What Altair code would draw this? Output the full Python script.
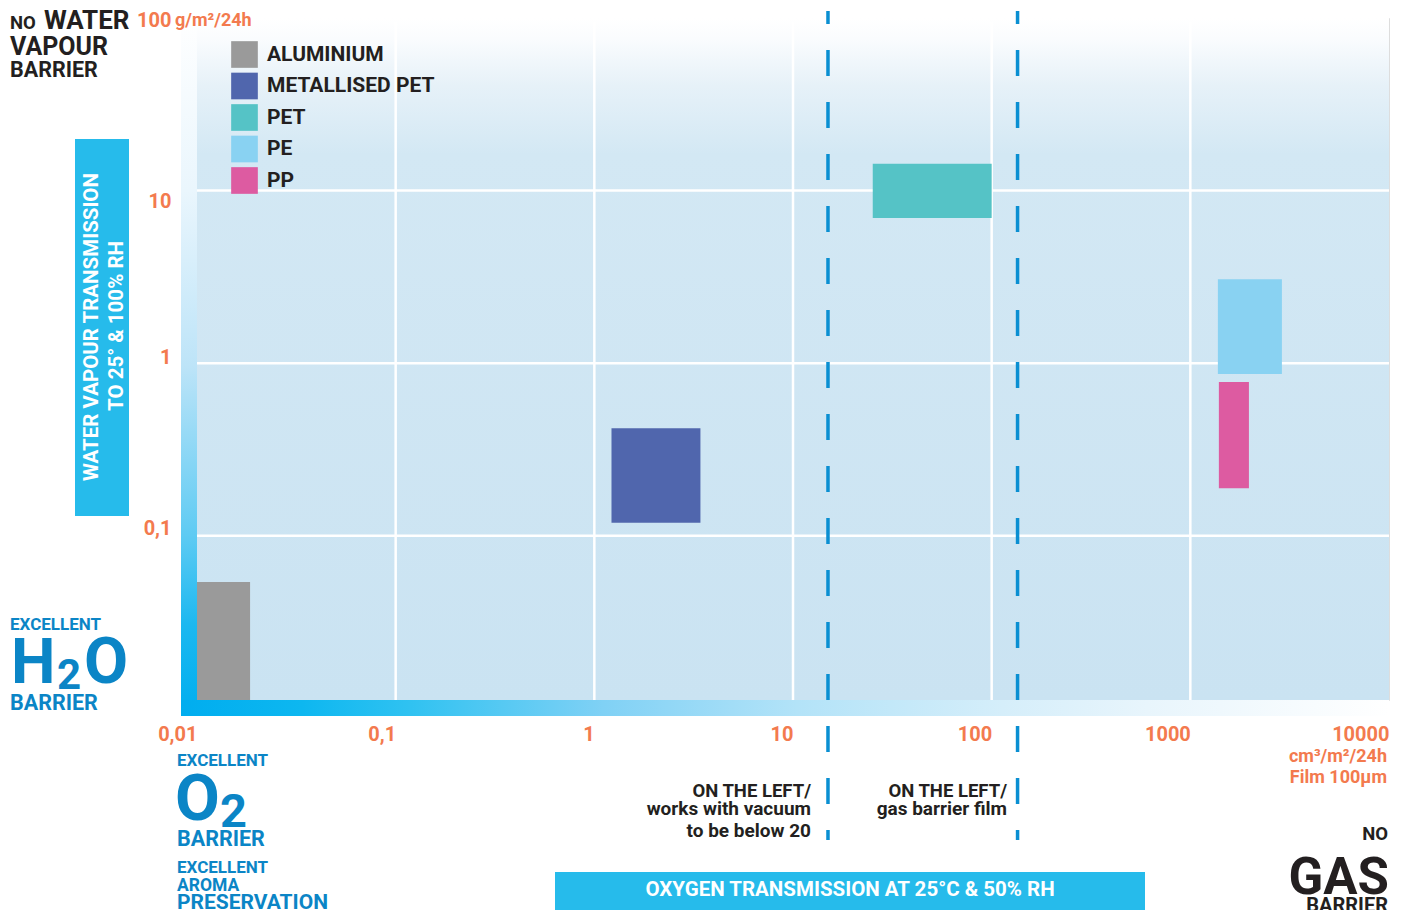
import altair as alt
import pandas as pd

# ---------------- data ----------------
materials = ["ALUMINIUM", "METALLISED PET", "PET", "PE", "PP"]
colors = ["#9a9a9a", "#5066ad", "#55c3c6", "#89d2f2", "#dd5ba1"]
otr_low = [0.01, 1.22, 25.2, 1376, 1392]       # cm3/m2/24h
otr_high = [0.0185, 3.42, 100, 2890, 1972]
wvtr_low = [0.0112, 0.119, 6.95, 0.866, 0.189]  # g/m2/24h
wvtr_high = [0.054, 0.42, 14.3, 3.07, 0.778]

x_ticks = [0.01, 0.1, 1, 10, 100, 1000, 10000]
y_ticks = [0.1, 1, 10, 100]
x_grid = [0.1, 1, 10, 100, 1000]
y_grid = [0.1, 1, 10]
limits = [15, 135]   # dashed reference lines

df = pd.DataFrame({"material": materials, "otr_low": otr_low, "otr_high": otr_high,
                   "wvtr_low": wvtr_low, "wvtr_high": wvtr_high})

# ---------------- layout constants ----------------
X0, Y0 = 197, 18          # screen position of plot origin
W, H = 1192, 682
FONT = "Roboto"
INK = "#231f20"
ORANGE = "#f37a4e"
BLUE = "#0b85c6"
BOX = "#26bbeb"
DASH = "#0a8fd2"

x_scale = alt.Scale(type="log", domain=[0.01, 10000], nice=False)
y_scale = alt.Scale(type="log", domain=[0.0112, 100], nice=False)

one = pd.DataFrame({"a": [0]})


def grad(stops, vertical=True):
    return {"gradient": "linear", "x1": 0, "y1": 0,
            "x2": 0 if vertical else 1, "y2": 1 if vertical else 0,
            "stops": [{"offset": o, "color": c} for o, c in stops]}


def box(x1, y1, x2, y2, fill):
    return alt.Chart(one).mark_rect(fill=fill, strokeWidth=0).encode(
        x=alt.value(x1 - X0), x2=alt.value(x2 - X0),
        y=alt.value(y1 - Y0), y2=alt.value(y2 - Y0))


def text(s, x, y, size, color=INK, align="left", angle=None, baseline="alphabetic"):
    kw = dict(font=FONT, fontWeight="bold", fontSize=size, fill=color,
              align=align, baseline=baseline)
    if angle is not None:
        kw["angle"] = angle
    return alt.Chart(pd.DataFrame({"t": [s]})).mark_text(**kw).encode(
        text="t:N", x=alt.value(x - X0), y=alt.value(y - Y0))


x_axis = alt.Axis(values=x_ticks, title=None, grid=False, domain=False, ticks=False, tickSize=0,
                  labelExpr="replace(format(datum.value, '~g'), '.', ',')",
                  labelAlign="right", labelBaseline="alphabetic", labelPadding=40,
                  labelFont=FONT, labelFontSize=20, labelFontWeight="bold", labelColor=ORANGE,
                  labelOverlap=False, labelFlush=False, labelBound=False)
y_axis = alt.Axis(values=y_ticks, title=None, grid=False, domain=False, ticks=False, tickSize=0,
                  labelExpr="replace(format(datum.value, '~g'), '.', ',')",
                  labelAlign="right", labelBaseline="alphabetic", labelPadding=26,
                  labelOffset={"expr": "datum.value == 10 ? 17 : datum.value == 100 ? 8 : datum.value == 1 ? 0 : -1"},
                  labelFont=FONT, labelFontSize=20, labelFontWeight="bold", labelColor=ORANGE,
                  labelOverlap=False, labelFlush=False, labelBound=False)

# ---------------- layers ----------------
background = alt.Chart(one).mark_rect(
    fill=grad([(0, "#ffffff"), (0.03, "#fafcfe"), (0.1, "#e6f1f8"),
               (0.2, "#d3e8f4"), (1, "#cae3f2")]), strokeWidth=0
).encode(x=alt.value(0), x2=alt.value(W), y=alt.value(0), y2=alt.value(H))

grid_v = alt.Chart(pd.DataFrame({"v": x_grid})).mark_rule(color="white", strokeWidth=2.5).encode(
    x=alt.X("v:Q", scale=x_scale, axis=x_axis), y=alt.value(4), y2=alt.value(H))
grid_h = alt.Chart(pd.DataFrame({"v": y_grid})).mark_rule(color="white", strokeWidth=2.5).encode(
    y=alt.Y("v:Q", scale=y_scale, axis=y_axis), x=alt.value(0), x2=alt.value(W))

legend = alt.Legend(orient="none", legendX=231 - X0, legendY=41 - Y0, title=None,
                    symbolType="square", symbolSize=711, symbolStrokeWidth=0, symbolOpacity=1,
                    labelFont=FONT, labelFontSize=21, labelFontWeight="bold", labelColor=INK,
                    labelLimit=0, rowPadding=4.5, labelOffset=9, padding=0)

rects = alt.Chart(df).mark_rect(strokeWidth=0).encode(
    x=alt.X("otr_low:Q", scale=x_scale, axis=x_axis),
    x2="otr_high:Q",
    y=alt.Y("wvtr_low:Q", scale=y_scale, axis=y_axis),
    y2="wvtr_high:Q",
    color=alt.Color("material:N", scale=alt.Scale(domain=materials, range=colors), legend=legend),
)

left_bar = alt.Chart(one).mark_rect(
    fill=grad([(0, "#ffffff"), (0.25, "#eaf6fd"), (0.5, "#bde4f8"), (0.74, "#5fcbf3"),
               (0.87, "#1cb8f0"), (1, "#00aeef")]), strokeWidth=0
).encode(x=alt.value(181 - X0), x2=alt.value(0), y=alt.value(15 - Y0), y2=alt.value(716 - Y0))

bottom_bar = alt.Chart(one).mark_rect(
    fill=grad([(0, "#00adef"), (0.1, "#0db7f0"), (0.19, "#30c2f1"), (0.35, "#80d1f5"),
               (0.51, "#b3e3f8"), (0.68, "#d5eefa"), (0.8, "#e8f5fc"), (1, "#ffffff")], vertical=False),
    strokeWidth=0
).encode(x=alt.value(181 - X0), x2=alt.value(W), y=alt.value(H), y2=alt.value(716 - Y0))

dashes = alt.Chart(pd.DataFrame({"v": limits})).mark_rule(
    color=DASH, strokeWidth=3.5, strokeDash=[26, 26], strokeDashOffset=13
).encode(x=alt.X("v:Q", scale=x_scale, axis=x_axis),
         y=alt.value(11 - Y0), y2=alt.value(840 - Y0))

labels = [
    # top-left
    text("NO", 10, 29, 18.5), text("WATER", 44, 29, 26), text("VAPOUR", 10, 55, 25),
    text("BARRIER", 10, 77, 21.5),
    text("g/m²/24h", 175, 26, 18, ORANGE),
    # y title
    box(75, 139, 129, 516, BOX),
    text("WATER VAPOUR TRANSMISSION", 97.5, 327, 20.5, "white", "center", 270),
    text("TO 25° & 100% RH", 122.5, 326, 20.5, "white", "center", 270),
    # H2O
    text("EXCELLENT", 10, 630, 17, BLUE), text("H", 11, 683, 63, BLUE),
    text("2", 57, 689, 42, BLUE), text("O", 84, 683, 64, BLUE),
    text("BARRIER", 10, 710, 21.5, BLUE),
    # O2
    text("EXCELLENT", 177, 766, 17, BLUE), text("O", 175, 820, 65, BLUE),
    text("2", 220, 827, 47, BLUE), text("BARRIER", 177, 846, 21.5, BLUE),
    text("EXCELLENT", 177, 873, 17, BLUE), text("AROMA", 177, 891, 17.5, BLUE),
    text("PRESERVATION", 177, 909, 21, BLUE),
    # dashed-line notes
    text("ON THE LEFT/", 811, 797, 18.5, INK, "right"),
    text("works with vacuum", 811, 815, 19, INK, "right"),
    text("to be below 20", 811, 837, 19, INK, "right"),
    text("ON THE LEFT/", 1007, 797, 18.5, INK, "right"),
    text("gas barrier film", 1007, 815, 19, INK, "right"),
    # x units
    text("cm³/m²/24h", 1387, 762, 18, ORANGE, "right"),
    text("Film 100µm", 1387, 783, 18, ORANGE, "right"),
    # no gas barrier
    text("NO", 1388, 840, 18.5, INK, "right"), text("GAS", 1389, 894, 51, INK, "right"),
    text("BARRIER", 1388, 912, 20, INK, "right"),
    # x title
    box(555, 872, 1145, 912, BOX),
    text("OXYGEN TRANSMISSION AT 25°C & 50% RH", 850, 896, 20.5, "white", "center"),
]

chart = alt.layer(background, grid_v, grid_h, rects, left_bar, bottom_bar, dashes, *labels).properties(
    width=W, height=H,
    autosize=alt.AutoSizeParams(type="none"),
    padding={"left": 189, "top": 10, "right": 5, "bottom": 210},
).configure_view(stroke=None).configure(background="white")

chart.save("out.html", embed_options={"renderer": "svg", "actions": False})
